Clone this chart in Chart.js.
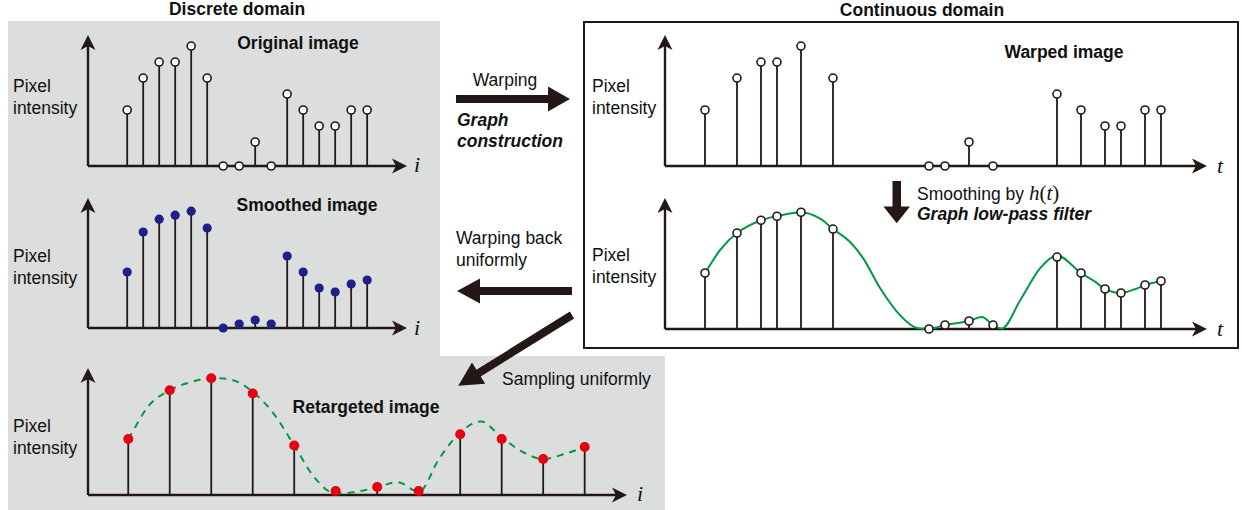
<!DOCTYPE html>
<html>
<head>
<meta charset="utf-8">
<script src="https://cdn.jsdelivr.net/npm/chart.js@4.4.0/dist/chart.umd.min.js"></script>
<style>
  body { margin: 0; width: 1242px; height: 510px; position: relative; overflow: hidden; background: #fff;
         font-family: "Liberation Sans", Arial, sans-serif; color: #111; }
  .panel { position: absolute; background: #dcdddd; }
  .box { position: absolute; border: 2px solid #231815; box-sizing: border-box; background: #fff; }
  .t { position: absolute; font-size: 17.5px; white-space: nowrap; line-height: 1; }
  .c { transform: translate(-50%, -50%); }
  .l { transform: translateY(-50%); }
  .b { font-weight: bold; }
  .bi { font-weight: bold; font-style: italic; }
  .two { line-height: 21.5px; }
  .m { font-family: "Liberation Serif", serif; font-style: italic; font-size: 22px; }
  .mm { font-family: "Liberation Serif", serif; font-size: 21px; }
  canvas { position: absolute; }
  svg { position: absolute; left: 0; top: 0; }
</style>
</head>
<body>

<div class="panel" style="left:8px; top:21px; width:432px; height:336px;"></div>
<div class="panel" style="left:8px; top:356px; width:657px; height:154px;"></div>
<div class="box" style="left:583px; top:21px; width:656px; height:328px;"></div>

<div class="t c b" style="left:237px; top:10px;">Discrete domain</div>
<div class="t c b" style="left:922px; top:11px;">Continuous domain</div>

<div class="t c b" style="left:298px; top:44px;">Original image</div>
<div class="t c b" style="left:307px; top:206px;">Smoothed image</div>
<div class="t c b" style="left:366px; top:408px;">Retargeted image</div>
<div class="t c b" style="left:1064px; top:53px;">Warped image</div>

<div class="t two" style="left:13px; top:76px;">Pixel<br>intensity</div>
<div class="t two" style="left:13px; top:246px;">Pixel<br>intensity</div>
<div class="t two" style="left:13px; top:416px;">Pixel<br>intensity</div>
<div class="t two" style="left:592px; top:76px;">Pixel<br>intensity</div>
<div class="t two" style="left:592px; top:245px;">Pixel<br>intensity</div>

<div class="t c" style="left:505px; top:81px;">Warping</div>
<div class="t bi two" style="left:457px; top:110px; line-height:20.5px;">Graph<br>construction</div>
<div class="t two" style="left:456px; top:228px;">Warping back<br>uniformly</div>
<div class="t l" style="left:502px; top:380px;">Sampling uniformly</div>
<div class="t l" style="left:917px; top:193px;">Smoothing by <span class="mm"><i>h</i>(<i>t</i>)</span></div>
<div class="t l bi" style="left:917px; top:215px;">Graph low-pass filter</div>

<div class="t c m" style="left:417px; top:165px;">i</div>
<div class="t c m" style="left:417px; top:328px;">i</div>
<div class="t c m" style="left:640px; top:494px;">i</div>
<div class="t c m" style="left:1220px; top:166px;">t</div>
<div class="t c m" style="left:1220px; top:329px;">t</div>

<canvas id="original"></canvas>
<canvas id="smoothed"></canvas>
<canvas id="retargeted"></canvas>
<canvas id="warped"></canvas>
<canvas id="continuous"></canvas>

<svg width="1242" height="510">
  <g fill="#231815">
    <polygon points="456,95 548,95 548,86.5 570,99 548,111.5 548,103 456,103"/>
    <polygon points="572,287 480,287 480,278.5 457,291 480,303.5 480,295 572,295"/>
    <g transform="translate(572,315) rotate(148.1)">
      <polygon points="0,-4 110,-4 110,-12.5 134,0 110,12.5 110,4 0,4"/>
    </g>
    <polygon points="892.5,181 901,181 901,206.5 910,206.5 896.7,223.3 883.5,206.5 892.5,206.5"/>
  </g>
</svg>

<script>
// discrete pixels (index i) and their intensities
const pixelIndex = [1, 2, 3, 4, 5, 6, 7, 8, 9, 10, 11, 12, 13, 14, 15, 16];
const originalValues = [3.5, 5.5, 6.5, 6.5, 7.5, 5.5, 0, 0, 1.5, 0, 4.5, 3.5, 2.5, 2.5, 3.5, 3.5];
const smoothedValues = [3.5, 6.0, 6.8, 7.05, 7.3, 6.25, 0, 0.25, 0.5, 0.25, 4.5, 3.5, 2.5, 2.25, 2.75, 3.0];

// warped positions on the continuous axis t
const warpedT = [2.5, 4.5, 6, 7, 8.5, 10.5, 16.5, 17.5, 19, 20.5, 24.5, 26, 27.5, 28.5, 30, 31];

// low-pass filtered curve h(t)
const curveT = [2.5, 3.45, 4.5, 6, 7, 8.5, 9.7, 10.5, 11.55, 12.4, 13.45, 14.7, 15.75, 16.5,
                17.5, 19, 19.8, 20.5, 21.05, 22.2, 23.45, 24.5, 26, 26.9, 27.5, 28.5, 29.4, 30, 31];
const curveValues = [3.5, 4.95, 6.0, 6.8, 7.05, 7.3, 6.9, 6.25, 5.45, 4.4, 2.55, 0.85, 0.06, 0,
                     0.25, 0.5, 0.75, 0.25, 0.03, 1.8, 3.8, 4.6, 3.5, 2.95, 2.5, 2.25, 2.5, 2.75, 3.0];

// uniformly resampled (retargeted) image
const retargetIndex = [1, 2, 3, 4, 5, 6, 7, 8, 9, 10, 11, 12];
const retargetValues = [3.5, 6.55, 7.3, 6.35, 3.1, 0.25, 0.5, 0.25, 3.8, 3.5, 2.25, 3.0];
const retargetCurveIndex = [1, 1.5, 2, 2.5, 3, 3.5, 4, 4.5, 5, 5.5, 6, 6.5, 7, 7.5, 8, 8.5,
                            9, 9.5, 10, 10.5, 11, 11.5, 12];
const retargetCurveValues = [3.5, 5.6, 6.55, 7.05, 7.3, 7.2, 6.45, 5.1, 3.1, 1.05, 0.1, 0.2,
                             0.5, 0.8, 0.2, 2.3, 3.9, 4.6, 3.6, 2.7, 2.25, 2.55, 3.0];

const ink = '#231815';
const navy = '#1d2088';
const red = '#e60012';
const green = '#009944';

const pts = (xs, ys) => xs.map((x, k) => ({ x: x, y: ys[k] }));

function arrowHead(ctx, x, y, dir) {
    ctx.save();
    ctx.translate(x, y);
    if (dir === 'right') ctx.rotate(Math.PI / 2);
    ctx.beginPath();
    ctx.moveTo(0, 0);
    ctx.lineTo(-7.5, 15);
    ctx.lineTo(0, 11);
    ctx.lineTo(7.5, 15);
    ctx.closePath();
    ctx.fill();
    ctx.restore();
}

// axes with arrows + stems from the baseline up to every point
const stemAxes = {
    id: 'stemAxes',
    beforeDatasetsDraw(chart) {
        const { ctx, chartArea } = chart;
        const x = chart.scales.x, y = chart.scales.y;
        const x0 = x.getPixelForValue(x.min);
        const y0 = y.getPixelForValue(0);
        ctx.save();
        ctx.strokeStyle = ink;
        ctx.fillStyle = ink;
        ctx.lineWidth = 1.8;
        chart.data.datasets.forEach((ds, i) => {
            if (!ds.stems) return;
            chart.getDatasetMeta(i).data.forEach(p => {
                ctx.beginPath();
                ctx.moveTo(p.x, y0);
                ctx.lineTo(p.x, p.y);
                ctx.stroke();
            });
        });
        ctx.lineWidth = 2.4;
        ctx.beginPath();
        ctx.moveTo(x0, y0);
        ctx.lineTo(chartArea.right - 8, y0);
        ctx.moveTo(x0, y0);
        ctx.lineTo(x0, chartArea.top + 8);
        ctx.stroke();
        arrowHead(ctx, chartArea.right, y0, 'right');
        arrowHead(ctx, x0, chartArea.top, 'up');
        ctx.restore();
    }
};

function stemChart(id, box, xRange, yMax, datasets) {
    const pad = 12;
    const cv = document.getElementById(id);
    const w = box.xTip - box.ox + 2 * pad;
    const h = box.oy - box.yTip + 2 * pad;
    cv.width = w;
    cv.height = h;
    cv.style.left = (box.ox - pad) + 'px';
    cv.style.top = (box.yTip - pad) + 'px';
    cv.style.width = w + 'px';
    cv.style.height = h + 'px';
    return new Chart(cv, {
        type: 'scatter',
        data: { datasets: datasets },
        options: {
            responsive: false,
            animation: false,
            events: [],
            layout: { padding: pad },
            plugins: { legend: { display: false }, tooltip: { enabled: false } },
            scales: {
                x: { type: 'linear', display: false, min: xRange[0], max: xRange[1] },
                y: { type: 'linear', display: false, min: 0, max: yMax }
            }
        },
        plugins: [stemAxes]
    });
}

const openDots = { pointRadius: 4, pointBackgroundColor: '#fff', pointBorderColor: ink, pointBorderWidth: 1.6 };

stemChart('original', { ox: 88, oy: 166, xTip: 407, yTip: 35 }, [-1.45, 18.49], 8.19, [
    Object.assign({ data: pts(pixelIndex, originalValues), stems: true, clip: false }, openDots)
]);

stemChart('smoothed', { ox: 88, oy: 328, xTip: 407, yTip: 198 }, [-1.45, 18.49], 8.125, [
    { data: pts(pixelIndex, smoothedValues), stems: true, clip: false,
      pointRadius: 4.6, pointBackgroundColor: navy, pointBorderColor: navy, pointBorderWidth: 0 }
]);

stemChart('retargeted', { ox: 88, oy: 495, xTip: 627, yTip: 368 }, [0.03, 13.02], 7.94, [
    { data: pts(retargetIndex, retargetValues), stems: true, clip: false,
      pointRadius: 5, pointBackgroundColor: red, pointBorderColor: red, pointBorderWidth: 0 },
    { data: pts(retargetCurveIndex, retargetCurveValues), showLine: true, clip: false,
      pointRadius: 0, borderColor: green, borderWidth: 2, borderDash: [7, 6],
      cubicInterpolationMode: 'monotone' }
]);

stemChart('warped', { ox: 665, oy: 166, xTip: 1207, yTip: 35 }, [0, 33.875], 8.19, [
    Object.assign({ data: pts(warpedT, originalValues), stems: true, clip: false }, openDots)
]);

stemChart('continuous', { ox: 665, oy: 329, xTip: 1207, yTip: 198 }, [0, 33.875], 8.19, [
    Object.assign({ data: pts(warpedT, smoothedValues), stems: true, clip: false }, openDots),
    { data: pts(curveT, curveValues), showLine: true, clip: false,
      pointRadius: 0, borderColor: green, borderWidth: 2, cubicInterpolationMode: 'monotone' }
]);
</script>
</body>
</html>
